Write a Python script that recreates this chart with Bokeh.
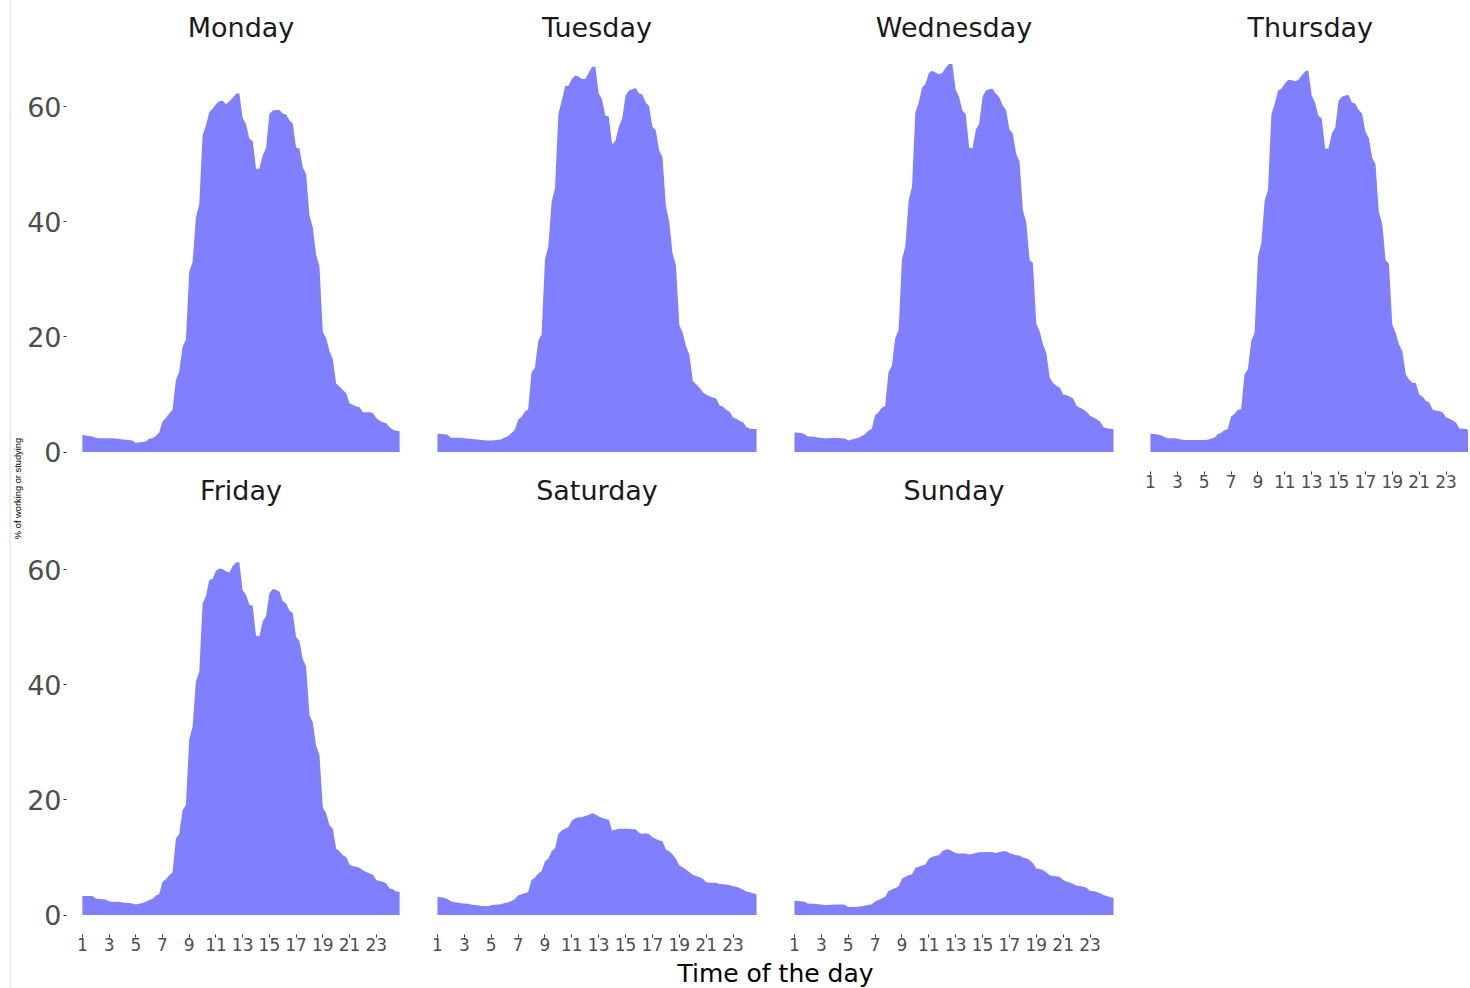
import numpy as np
from bokeh.plotting import figure
from bokeh.layouts import row, column
from bokeh.models import Range1d, FixedTicker, Label, Span
from bokeh.embed import file_html
from bokeh.resources import INLINE

# quarter-hour time slots, hour 1.00 ... 24.75
hours = np.arange(1, 25, 0.25)

days = ["Monday", "Tuesday", "Wednesday", "Thursday", "Friday", "Saturday", "Sunday"]
x_ticks = [1, 3, 5, 7, 9, 11, 13, 15, 17, 19, 21, 23]
y_ticks = [0, 20, 40, 60]

monday = [3.0, 2.9, 2.8, 2.7, 2.5, 2.4, 2.4, 2.4, 2.4, 2.4,
          2.35, 2.3, 2.2, 2.15, 2.1, 2.0, 1.6, 1.7, 1.75, 1.9,
          2.3, 2.4, 2.8, 3.4, 5.3, 5.9, 6.7, 7.3, 12.5, 14.0,
          18.3, 19.5, 31.3, 33.0, 40.8, 43.0, 55.0, 56.7, 59.0, 59.6,
          60.4, 60.9, 61.0, 60.4, 60.9, 61.5, 62.2, 62.3, 58.0, 57.0,
          54.4, 54.0, 49.2, 49.2, 51.5, 52.8, 58.7, 59.3, 59.4, 59.4,
          58.8, 58.6, 57.6, 57.0, 52.9, 52.7, 49.4, 48.3, 41.1, 39.1,
          34.2, 32.3, 20.8, 19.8, 17.5, 16.1, 11.9, 11.4, 10.8, 10.2,
          8.5, 8.2, 7.9, 7.8, 6.9, 6.9, 6.9, 6.8, 5.9, 5.5,
          5.2, 5.0, 4.3, 3.9, 3.7, 3.6]

tuesday = [3.2, 3.15, 3.1, 3.0, 2.5, 2.5, 2.5, 2.5, 2.4, 2.35,
           2.3, 2.25, 2.2, 2.1, 2.05, 2.0, 2.0, 2.05, 2.15, 2.2,
           2.55, 2.75, 3.3, 3.8, 5.6, 6.1, 7.0, 7.4, 13.8, 14.6,
           19.3, 20.4, 33.4, 35.7, 43.5, 45.8, 58.7, 61.0, 63.5, 63.6,
           64.8, 65.4, 65.2, 64.8, 64.8, 65.8, 66.9, 66.9, 62.3, 61.2,
           58.4, 58.3, 53.4, 54.1, 56.5, 57.9, 61.9, 62.8, 63.0, 63.2,
           62.3, 62.1, 60.7, 60.1, 56.5, 55.9, 52.4, 51.2, 42.8, 40.0,
           34.5, 32.5, 22.1, 20.7, 18.4, 16.9, 12.4, 11.8, 11.2, 10.4,
           10.0, 9.7, 9.5, 9.3, 8.1, 7.9, 7.3, 7.0, 6.0, 5.8,
           5.4, 5.2, 4.3, 4.1, 4.0, 4.0]

wednesday = [3.4, 3.35, 3.3, 3.1, 2.7, 2.7, 2.65, 2.55, 2.45, 2.4,
             2.4, 2.45, 2.5, 2.45, 2.4, 2.35, 2.0, 2.2, 2.3, 2.5,
             2.8, 3.1, 3.7, 4.0, 6.4, 6.9, 7.7, 8.0, 13.9, 15.0,
             19.8, 21.2, 33.4, 35.7, 43.7, 46.1, 59.0, 60.7, 63.3, 63.9,
             65.8, 66.2, 65.9, 65.6, 65.8, 66.7, 67.4, 67.4, 62.9, 61.7,
             59.3, 58.7, 52.9, 52.7, 56.0, 57.0, 61.7, 62.8, 63.0, 63.1,
             62.2, 61.6, 60.2, 59.4, 56.0, 55.3, 51.8, 50.5, 42.0, 40.0,
             33.4, 32.8, 22.3, 21.0, 18.7, 17.2, 12.9, 12.0, 11.5, 11.2,
             10.0, 9.9, 9.6, 9.3, 8.0, 7.7, 7.4, 7.0, 6.3, 6.0,
             5.7, 5.3, 4.3, 4.15, 4.05, 4.0]

thursday = [3.2, 3.15, 3.05, 2.95, 2.65, 2.4, 2.4, 2.4, 2.35, 2.2,
            2.1, 2.1, 2.1, 2.1, 2.1, 2.1, 2.1, 2.15, 2.3, 2.5,
            3.1, 3.3, 3.8, 4.0, 6.2, 6.6, 7.3, 7.5, 13.5, 14.4,
            19.3, 20.7, 33.9, 36.3, 43.7, 45.5, 58.6, 60.5, 62.8, 63.1,
            64.0, 64.6, 64.6, 64.4, 64.6, 65.4, 66.1, 66.3, 61.9, 60.7,
            58.4, 57.9, 52.7, 52.7, 55.3, 56.3, 61.0, 61.7, 61.9, 62.0,
            60.7, 60.5, 59.4, 58.8, 55.6, 54.6, 51.1, 50.0, 41.7, 39.7,
            33.4, 32.7, 22.1, 20.7, 18.7, 17.5, 13.5, 12.6, 12.0, 12.0,
            10.0, 9.6, 8.9, 8.6, 7.4, 7.2, 7.1, 6.9, 6.0, 5.8,
            5.5, 5.1, 4.1, 4.05, 4.0, 3.7]

friday = [3.3, 3.3, 3.3, 3.3, 2.9, 2.8, 2.75, 2.7, 2.35, 2.3,
          2.3, 2.3, 2.2, 2.15, 2.1, 2.0, 1.85, 1.95, 2.1, 2.3,
          2.6, 2.8, 3.4, 3.6, 5.8, 6.2, 6.9, 7.4, 13.3, 14.1,
          18.2, 19.1, 30.5, 32.7, 40.6, 42.2, 54.1, 55.4, 58.2, 58.4,
          59.8, 60.2, 60.1, 59.7, 59.5, 60.6, 61.2, 61.3, 56.4, 55.6,
          53.9, 53.7, 48.5, 48.4, 51.0, 51.9, 55.9, 56.6, 56.5, 56.2,
          54.5, 54.1, 52.9, 52.4, 48.3, 47.6, 44.4, 43.2, 34.7, 33.5,
          29.4, 27.8, 18.7, 17.7, 15.6, 15.0, 11.5, 11.1, 10.4, 10.1,
          8.8, 8.5, 8.4, 8.2, 7.8, 7.5, 7.2, 7.0, 6.1, 5.9,
          5.8, 5.5, 4.6, 4.5, 4.1, 4.0]

saturday = [3.2, 3.1, 3.0, 2.8, 2.4, 2.25, 2.2, 2.05, 2.0, 1.95,
            1.85, 1.75, 1.7, 1.6, 1.6, 1.55, 1.7, 1.8, 1.85, 1.9,
            2.1, 2.2, 2.45, 2.75, 3.4, 3.6, 3.8, 4.0, 6.1, 6.5,
            7.2, 7.6, 9.3, 9.8, 11.1, 11.6, 14.1, 14.7, 15.0, 15.3,
            16.4, 16.8, 17.0, 17.0, 17.2, 17.4, 17.7, 17.5, 17.1, 16.9,
            16.7, 16.6, 14.7, 14.8, 15.0, 15.0, 15.0, 15.0, 14.9, 14.9,
            14.3, 14.1, 14.2, 14.1, 13.5, 13.2, 13.0, 12.8, 11.4, 11.1,
            10.5, 9.8, 8.6, 8.3, 7.9, 7.5, 7.0, 6.8, 6.6, 6.3,
            5.7, 5.6, 5.6, 5.6, 5.4, 5.35, 5.3, 5.2, 5.0, 4.9,
            4.7, 4.4, 4.1, 3.95, 3.8, 3.6]

sunday = [2.5, 2.45, 2.4, 2.3, 2.0, 1.95, 1.95, 1.9, 1.85, 1.75,
          1.75, 1.8, 1.85, 1.85, 1.85, 1.8, 1.4, 1.4, 1.4, 1.45,
          1.55, 1.65, 1.75, 1.9, 2.35, 2.6, 2.9, 3.2, 4.2, 4.45,
          4.7, 5.0, 6.3, 6.65, 6.9, 7.1, 8.2, 8.4, 8.6, 8.8,
          9.8, 10.1, 10.3, 10.4, 11.1, 11.4, 11.4, 11.1, 10.8, 10.7,
          10.7, 10.7, 10.5, 10.6, 10.8, 10.9, 10.9, 10.95, 10.95, 10.9,
          10.8, 10.95, 11.1, 11.1, 10.8, 10.6, 10.4, 10.35, 10.0, 9.85,
          9.55, 9.0, 8.1, 8.0, 7.85, 7.4, 6.9, 6.8, 6.75, 6.6,
          6.1, 5.85, 5.65, 5.4, 5.1, 5.05, 4.9, 4.75, 4.2, 4.2,
          4.0, 3.8, 3.5, 3.3, 3.1, 3.0]

series = [monday, tuesday, wednesday, thursday, friday, saturday, sunday]

# shared (fixed) scales with ~5% padding like ggplot facets
x_span = hours[-1] - hours[0]
X_START = hours[0] - 0.05 * x_span
X_END = hours[-1] + 0.05 * x_span
y_max = max(max(s) for s in series)
Y_START = -0.05 * y_max
Y_END = y_max * 1.05

FILL = "#8080ff"
FONT = "DejaVu Sans"
BORDER = "#e8e8e8"
FRAME_W = 351
FRAME_H = 427
TOP1, TOP2, BOTTOM_AX = 44, 36, 27
THU_W = 334
STRIP_W = 24
XTITLE_H = 27


def style_axes(fig):
    for ax in fig.xaxis:
        ax.ticker = FixedTicker(ticks=x_ticks)
        ax.axis_label = None
        ax.axis_label_standoff = 0
        ax.axis_line_color = None
        ax.major_tick_in = 0
        ax.major_tick_out = 3
        ax.minor_tick_out = 0
        ax.major_tick_line_color = "#333333"
        ax.minor_tick_line_color = None
        ax.major_label_text_font = FONT
        ax.major_label_text_font_size = "17px"
        ax.major_label_text_color = "#4d4d4d"
        ax.major_label_standoff = 0
    for ax in fig.yaxis:
        ax.ticker = FixedTicker(ticks=y_ticks)
        ax.axis_label = None
        ax.axis_label_standoff = 0
        ax.axis_line_color = None
        ax.major_tick_in = 0
        ax.major_tick_out = 3
        ax.minor_tick_out = 0
        ax.major_tick_line_color = "#333333"
        ax.minor_tick_line_color = None
        ax.major_label_text_font = FONT
        ax.major_label_text_font_size = "27px"
        ax.major_label_text_color = "#4d4d4d"
        ax.major_label_standoff = 2


def panel(idx, left, right, top, bottom, show_x, show_y, frame_w=FRAME_W, title_left=None):
    x_end = X_START + (X_END - X_START) * frame_w / FRAME_W
    fig = figure(width=left + frame_w + right, height=top + FRAME_H + bottom,
                 x_range=Range1d(X_START, x_end), y_range=Range1d(Y_START, Y_END),
                 x_axis_location="below" if show_x else None,
                 y_axis_location="left" if show_y else None,
                 output_backend="svg", toolbar_location=None, title=days[idx],
                 min_border_left=left, min_border_right=right,
                 min_border_top=top, min_border_bottom=bottom)
    fig.varea(x=hours, y1=0, y2=series[idx], fill_color=FILL, fill_alpha=1.0)
    fig.grid.visible = False
    fig.outline_line_color = None
    fig.background_fill_color = "white"
    fig.border_fill_color = "white"
    t = fig.title
    t.text_font = FONT
    t.text_font_size = "27px"
    t.text_font_style = "normal"
    t.text_color = "#1a1a1a"
    t.standoff = 3
    if title_left is None:
        t.align = "center"
    else:
        t.align = "left"
        t.offset = title_left
    style_axes(fig)
    return fig


mon = panel(0, 40, 3, TOP1, 0, False, True)
tue = panel(1, 3, 3, TOP1, 0, False, False)
wed = panel(2, 3, 3, TOP1, 0, False, False)
thu = panel(3, 2, 0, TOP1, BOTTOM_AX, True, False, frame_w=THU_W, title_left=113)
fri = panel(4, 40, 3, TOP2, BOTTOM_AX, True, True)
sat = panel(5, 3, 3, TOP2, BOTTOM_AX, True, False)
sun = panel(6, 3, 3, TOP2, BOTTOM_AX, True, False)

grid_h = TOP1 + FRAME_H + TOP2 + FRAME_H + BOTTOM_AX
TOTAL_W = STRIP_W + (40 + FRAME_W + 3) + 2 * (3 + FRAME_W + 3) + (2 + THU_W)


def blank(w, h, xr=(0, 1), yr=(0, 1)):
    f = figure(width=w, height=h, x_range=Range1d(*xr), y_range=Range1d(*yr),
               x_axis_location=None, y_axis_location=None,
               output_backend="svg", toolbar_location=None,
               min_border_left=0, min_border_right=0, min_border_top=0, min_border_bottom=0)
    f.title = None
    f.grid.visible = False
    f.outline_line_color = None
    f.background_fill_color = "white"
    f.border_fill_color = "white"
    return f


# y-axis title strip (with the faint left page edge of the reference)
strip = blank(STRIP_W, grid_h, xr=(0, STRIP_W), yr=(0, grid_h))
strip.add_layout(Span(location=9.75, dimension="height", line_color=BORDER, line_width=1.5))
row_gap_mid = TOP1 + FRAME_H + TOP2 / 2
strip.add_layout(Label(x=17, y=grid_h - row_gap_mid + 1, x_units="data", y_units="data",
                       text="% of working or studying", angle=np.pi / 2,
                       text_align="center", text_baseline="middle",
                       text_font="Liberation Sans", text_font_size="9.3px",
                       text_color="black"))

# shared x-axis title
xtitle = blank(TOTAL_W, XTITLE_H, xr=(0, TOTAL_W), yr=(0, XTITLE_H))
xtitle.add_layout(Span(location=9.75, dimension="height", line_color=BORDER, line_width=1.5))
xtitle.add_layout(Label(x=775, y=15.0, x_units="data", y_units="data",
                        text="Time of the day", text_align="center",
                        text_baseline="middle", text_font=FONT,
                        text_font_size="25px", text_color="black"))

layout = column(
    row(strip, column(mon, fri), column(tue, sat), column(wed, sun), column(thu)),
    xtitle,
)

open("out.html", "w").write(file_html(layout, INLINE))
